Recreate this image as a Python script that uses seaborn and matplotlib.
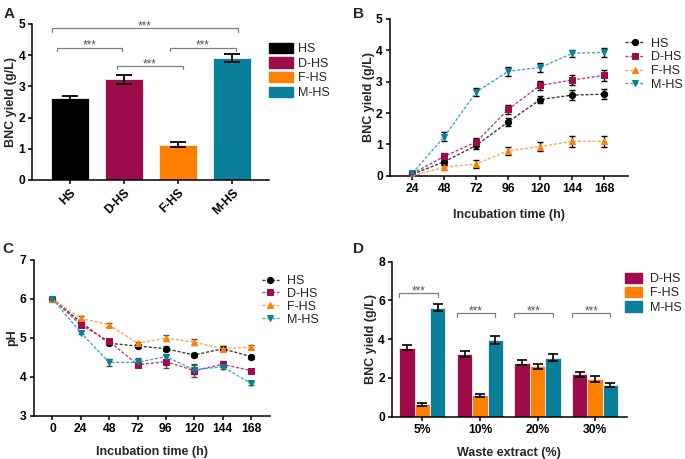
import matplotlib

matplotlib.use("Agg")
import matplotlib.pyplot as plt
import pandas as pd
import seaborn as sns

GROUPS = ["HS", "D-HS", "F-HS", "M-HS"]
BAR_COLORS = {"HS": "#000000", "D-HS": "#9E0B4B", "F-HS": "#FF8000", "M-HS": "#0A7F99"}
LINE_COLORS = {"HS": "#3C3C3C", "D-HS": "#C2407A", "F-HS": "#FFA850", "M-HS": "#3FA9C4"}
MARKERS = {"HS": "o", "D-HS": "s", "F-HS": "^", "M-HS": "v"}

# A: BNC yield per medium
yield_mean = [2.62, 3.22, 1.12, 3.92]
yield_sd = [0.07, 0.15, 0.08, 0.13]
brackets_a = [(-0.33, 3.10, 4.86), (-0.24, 0.97, 4.24), (0.88, 2.09, 3.65), (1.85, 3.07, 4.24)]

# B: BNC yield over time
time_b = [24, 48, 72, 96, 120, 144, 168]
growth = {
    "HS": [0.05, 0.45, 0.97, 1.72, 2.43, 2.57, 2.60],
    "D-HS": [0.07, 0.62, 1.08, 2.12, 2.88, 3.05, 3.20],
    "F-HS": [0.00, 0.27, 0.38, 0.80, 0.93, 1.10, 1.10],
    "M-HS": [0.08, 1.25, 2.67, 3.33, 3.45, 3.90, 3.93],
}
growth_sd = {
    "HS": [0.04, 0.10, 0.12, 0.13, 0.12, 0.15, 0.15],
    "D-HS": [0.04, 0.12, 0.12, 0.15, 0.15, 0.17, 0.18],
    "F-HS": [0.03, 0.08, 0.12, 0.13, 0.14, 0.17, 0.17],
    "M-HS": [0.04, 0.15, 0.12, 0.14, 0.14, 0.12, 0.14],
}

# C: pH over time
time_c = [0, 24, 48, 72, 96, 120, 144, 168]
ph = {
    "HS": [6.00, 5.40, 4.86, 4.79, 4.72, 4.56, 4.72, 4.52],
    "D-HS": [6.00, 5.33, 4.91, 4.31, 4.39, 4.16, 4.32, 4.16],
    "F-HS": [6.00, 5.50, 5.33, 4.86, 4.99, 4.89, 4.72, 4.76],
    "M-HS": [6.00, 5.13, 4.37, 4.37, 4.52, 4.18, 4.26, 3.83],
}
ph_sd = {
    "HS": [0.02, 0.05, 0.04, 0.06, 0.07, 0.04, 0.06, 0.05],
    "D-HS": [0.02, 0.05, 0.06, 0.06, 0.17, 0.17, 0.08, 0.04],
    "F-HS": [0.02, 0.06, 0.05, 0.04, 0.08, 0.08, 0.06, 0.05],
    "M-HS": [0.02, 0.04, 0.08, 0.12, 0.06, 0.12, 0.06, 0.04],
}

# D: BNC yield per waste extract concentration
extract = ["5%", "10%", "20%", "30%"]
media_d = ["D-HS", "F-HS", "M-HS"]
extract_yield = {
    "D-HS": [3.57, 3.24, 2.78, 2.18],
    "F-HS": [0.64, 1.10, 2.60, 1.93],
    "M-HS": [5.61, 3.95, 3.04, 1.63],
}
extract_sd = {
    "D-HS": [0.12, 0.15, 0.13, 0.13],
    "F-HS": [0.08, 0.08, 0.12, 0.15],
    "M-HS": [0.18, 0.20, 0.18, 0.12],
}
brackets_d = [6.37, 5.34, 5.34, 5.34]

sns.set_theme(style="ticks")
plt.rcParams["font.family"] = ["Liberation Sans", "DejaVu Sans"]
plt.rcParams["font.weight"] = "bold"
plt.rcParams["axes.labelweight"] = "bold"
plt.rcParams["axes.linewidth"] = 1.1
plt.rcParams["xtick.major.width"] = 1.1
plt.rcParams["ytick.major.width"] = 1.1
plt.rcParams["xtick.major.size"] = 3
plt.rcParams["ytick.major.size"] = 3
plt.rcParams["xtick.labelsize"] = 8.7
plt.rcParams["ytick.labelsize"] = 8.7
plt.rcParams["axes.labelsize"] = 9
plt.rcParams["xtick.color"] = "black"
plt.rcParams["ytick.color"] = "black"
plt.rcParams["axes.edgecolor"] = "black"

LEGEND_PROP = {"weight": "normal", "size": 9}

fig = plt.figure(figsize=(6.85, 4.59), dpi=100)
ax_a = fig.add_axes([0.047, 0.608, 0.346, 0.340])
ax_b = fig.add_axes([0.569, 0.617, 0.348, 0.342])
ax_c = fig.add_axes([0.049, 0.094, 0.345, 0.340])
ax_d = fig.add_axes([0.572, 0.092, 0.343, 0.338])


def style_axes(ax):
    sns.despine(ax=ax)
    ax.tick_params(axis="both", pad=2)


def bracket(ax, x0, x1, y, drop, text_offset):
    ax.plot([x0, x0, x1, x1], [y - drop, y, y, y - drop], color="#7F7F7F", lw=0.9, clip_on=False)
    ax.text((x0 + x1) / 2, y + text_offset, "***", ha="center", va="baseline",
            fontsize=8.5, fontweight="normal", color="#555555")


def legend(ax, handles, labels, x, y, handlelength, handletextpad, labelspacing, **kw):
    ax.legend(handles, labels, loc="upper left", bbox_to_anchor=(x, y),
              bbox_transform=fig.transFigure, frameon=False, prop=LEGEND_PROP,
              handlelength=handlelength, handletextpad=handletextpad,
              labelspacing=labelspacing, borderpad=0, borderaxespad=0, **kw)


# ---- A
df_a = pd.DataFrame({"Group": GROUPS, "Yield": yield_mean})
sns.barplot(data=df_a, x="Group", y="Yield", hue="Group", palette=BAR_COLORS, saturation=1,
            width=0.7, errorbar=None, edgecolor="#F2F2F2", linewidth=0.6, legend=False, ax=ax_a)
ax_a.errorbar(range(len(GROUPS)), yield_mean, yerr=yield_sd, fmt="none", ecolor="black",
              elinewidth=1.3, capsize=6, capthick=1.3)
for x0, x1, y in brackets_a:
    bracket(ax_a, x0, x1, y, 0.11, -0.03)
ax_a.set_ylim(0, 5)
ax_a.set_xlim(-0.69, 3.68)
ax_a.set_yticks(range(6))
ax_a.set_xlabel("")
ax_a.set_ylabel("BNC yield (g/L)", labelpad=1)
ax_a.set_xticks(range(len(GROUPS)))
ax_a.set_xticklabels(GROUPS, rotation=45, ha="right", rotation_mode="anchor")
style_axes(ax_a)
handles_a = [plt.Rectangle((0, 0), 1, 1, color=BAR_COLORS[g]) for g in GROUPS]
legend(ax_a, handles_a, GROUPS, 0.393, 0.907, 1.9, 0.4, 0.17, handleheight=0.9)


def time_panel(ax, times, values, sds, ecolor, capsize):
    for g in GROUPS:
        ax.errorbar(times, values[g], yerr=sds[g], fmt="none", ecolor=ecolor,
                    elinewidth=1.0, capsize=capsize, capthick=1.0, zorder=2)
        sns.lineplot(x=times, y=values[g], color=LINE_COLORS[g], marker=MARKERS[g],
                     markerfacecolor=BAR_COLORS[g], markeredgecolor=BAR_COLORS[g],
                     markersize=4.5, linestyle=(0, (2.2, 1.3)), linewidth=1.0,
                     label=g, ax=ax, zorder=3)
    style_axes(ax)


# ---- B
time_panel(ax_b, time_b, growth, growth_sd, "black", 2)
ax_b.set_xlim(7, 186)
ax_b.set_ylim(0, 5)
ax_b.set_xticks(time_b)
ax_b.set_yticks(range(6))
ax_b.set_xlabel("Incubation time (h)", labelpad=10)
ax_b.set_ylabel("BNC yield (g/L)", labelpad=1)
h, l = ax_b.get_legend_handles_labels()
legend(ax_b, h, l, 0.913, 0.918, 1.5, 0.55, 0.13)

# ---- C
time_panel(ax_c, time_c, ph, ph_sd, "#4D4D4D", 2)
ax_c.set_xlim(-16, 184)
ax_c.set_ylim(3, 7)
ax_c.set_xticks(time_c)
ax_c.set_yticks(range(3, 8))
ax_c.set_xlabel("Incubation time (h)", labelpad=8)
ax_c.set_ylabel("pH", labelpad=1)
h, l = ax_c.get_legend_handles_labels()
legend(ax_c, h, l, 0.383, 0.401, 1.3, 0.65, 0.07)

# ---- D
df_d = pd.DataFrame({
    "Extract": [e for m in media_d for e in extract],
    "Medium": [m for m in media_d for _ in extract],
    "Yield": [v for m in media_d for v in extract_yield[m]],
})
sns.barplot(data=df_d, x="Extract", y="Yield", hue="Medium", palette=BAR_COLORS, saturation=1,
            width=0.8, errorbar=None, edgecolor="#F2F2F2", linewidth=0.6, ax=ax_d)
for container, m in zip(ax_d.containers, media_d):
    centers = [bar.get_x() + bar.get_width() / 2 for bar in container]
    ax_d.errorbar(centers, extract_yield[m], yerr=extract_sd[m], fmt="none", ecolor="black",
                  elinewidth=1.2, capsize=3.5, capthick=1.2)
for i, y in enumerate(brackets_d):
    left = ax_d.containers[0][i].get_x()
    right_bar = ax_d.containers[2][i]
    right = right_bar.get_x() + right_bar.get_width() / 2
    bracket(ax_d, left, right, y, 0.17, -0.06)
ax_d.set_xlim(-0.53, 3.55)
ax_d.set_ylim(0, 8)
ax_d.set_yticks(range(0, 9, 2))
ax_d.set_xlabel("Waste extract (%)", labelpad=8)
ax_d.set_ylabel("BNC yield (g/L)", labelpad=1)
style_axes(ax_d)
handles_d = [plt.Rectangle((0, 0), 1, 1, color=BAR_COLORS[m]) for m in media_d]
legend(ax_d, handles_d, media_d, 0.912, 0.406, 1.4, 0.6, 0.14, handleheight=0.9)

for letter, x, y in [("A", 0.006, 0.985), ("B", 0.515, 0.985),
                     ("C", 0.004, 0.473), ("D", 0.515, 0.473)]:
    fig.text(x, y, letter, fontsize=11, fontweight="bold", va="top", ha="left")

fig.savefig("out.png", dpi=100)
